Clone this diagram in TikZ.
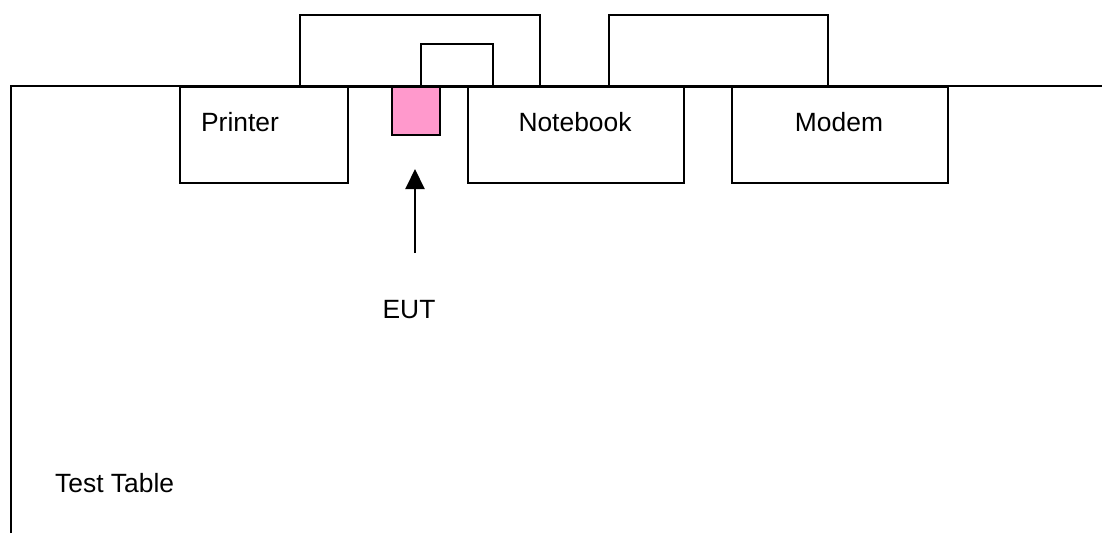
\documentclass[tikz,border=0pt]{standalone}
\usepackage{fontspec}
\setmainfont{Liberation Sans}
\usetikzlibrary{arrows.meta}
\begin{document}
\begin{tikzpicture}[x=1pt,y=-1pt,
  box/.style={draw=black,line width=2pt,fill=white,inner sep=0pt,anchor=north west},
  lbl/.style={font=\fontsize{26.4}{31}\selectfont,inner sep=0pt}]
\useasboundingbox (0,0) rectangle (1102,533);
% test table outline
\coordinate (tbl-bl) at (11,533);
\coordinate (tbl-tl) at (11,86);
\coordinate (tbl-tr) at (1102,86);
% upper boxes behind the table edge
\node[box,minimum width=240pt,minimum height=72pt] (back1) at (299,14) {};
\node[box,minimum width=72pt,minimum height=43pt] (back2) at (420,43) {};
\node[box,minimum width=219pt,minimum height=72pt] (back3) at (608,14) {};
\draw[line width=2pt] (tbl-bl) -- (tbl-tl) -- (tbl-tr);
% devices on the table
\node[box,minimum width=168pt,minimum height=96pt] (printer) at (179,86) {};
\node[box,minimum width=216pt,minimum height=96pt] (notebook) at (467,86) {};
\node[box,minimum width=216pt,minimum height=96pt] (modem) at (731,86) {};
\node[box,fill={rgb,255:red,255;green,153;blue,204},minimum width=48pt,minimum height=48pt] (eutbox) at (391,86) {};
\node[lbl] (printer-t) at (240,122) {Printer};
\node[lbl] (notebook-t) at (575,122) {Notebook};
\node[lbl] (modem-t) at (839,122) {Modem};
% EUT pointer
\node[lbl] (eut) at (409,310) {EUT};
\coordinate (arr-tail) at (415,253);
\coordinate (arr-tip) at (415,169);
\draw[line width=2pt,-{Triangle[width=19pt,length=20pt]}] (arr-tail) -- (arr-tip);
\node[lbl,anchor=west] (table) at (55,483) {Test Table};
\end{tikzpicture}
\end{document}
